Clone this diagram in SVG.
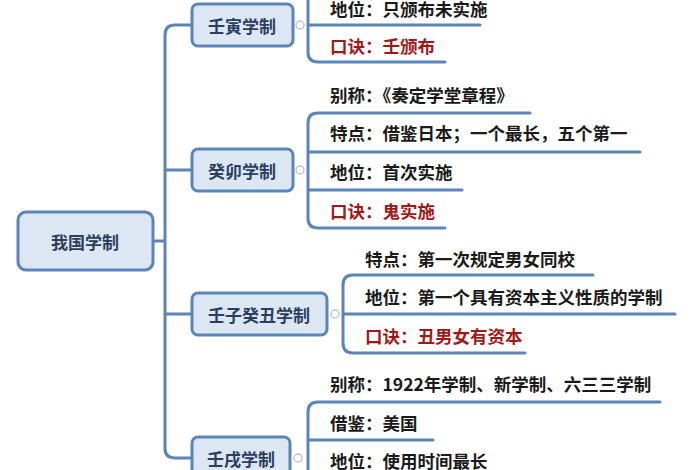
<svg xmlns="http://www.w3.org/2000/svg" width="700" height="470" viewBox="0 0 700 470">
<style>
.ln{fill:none;stroke:#5b84b8;stroke-width:3;stroke-linecap:round;stroke-linejoin:round}
.nd{fill:#dde6f3;stroke:#5b84b8;stroke-width:3}
.t{font-family:"Noto Sans CJK SC",sans-serif;font-size:17.5px;font-weight:bold;fill:#1a1a1a}
.r{fill:#a01818}
.nt{font-family:"Noto Sans CJK SC",sans-serif;font-size:17px;font-weight:bold;fill:#2a3f5f;text-anchor:middle;dominant-baseline:central}
.c{fill:#fff;stroke:#b8c6d8;stroke-width:1.5}
</style>
<g id="connectors">
<path class="ln" d="M153,241 H165 M192,25 H175 Q165,25 165,35 V448 Q165,458 175,458 H192 M165,170 H192 M165,314 H192"/>
<path class="ln" d="M308,0 V52 Q308,62 318,62 H445 M308,25 H480"/>
<path class="ln" d="M530,113 H318 Q308,113 308,123 V218 Q308,228 318,228 H445 M308,152 H640 M308,190 H462"/>
<path class="ln" d="M593,275 H353 Q343,275 343,285 V343 Q343,353 353,353 H525 M343,314 H675"/>
<path class="ln" d="M660,402 H318 Q308,402 308,412 V470 M308,440 H433 M308,478 H490"/>
<circle class="c" cx="300" cy="25" r="4"/>
<circle class="c" cx="300" cy="170" r="4"/>
<circle class="c" cx="335" cy="314" r="4"/>
<circle class="c" cx="298" cy="458" r="4"/>
</g>
<g id="root"><rect class="nd" x="18" y="212" width="135" height="58" rx="8"/><text class="nt" x="85" y="241">我国学制</text></g>
<g id="n1"><rect class="nd" x="192" y="4" width="101" height="42" rx="6"/><text class="nt" x="242" y="25">壬寅学制</text></g>
<g id="n2"><rect class="nd" x="192" y="149" width="101" height="42" rx="6"/><text class="nt" x="242" y="170">癸卯学制</text></g>
<g id="n3"><rect class="nd" x="192" y="293" width="135" height="42" rx="6"/><text class="nt" x="259" y="314">壬子癸丑学制</text></g>
<g id="n4"><rect class="nd" x="192" y="437" width="98" height="42" rx="6"/><text class="nt" x="241" y="458">壬戌学制</text></g>
<g id="leaves">
<text class="t" x="330" y="16">地位：只颁布未实施</text>
<text class="t r" x="330" y="53">口诀：壬颁布</text>
<text class="t" x="330" y="102">别称：《奏定学堂章程》</text>
<text class="t" x="330" y="140">特点：借鉴日本；一个最长，五个第一</text>
<text class="t" x="330" y="179">地位：首次实施</text>
<text class="t r" x="330" y="218">口诀：鬼实施</text>
<text class="t" x="365" y="266">特点：第一次规定男女同校</text>
<text class="t" x="365" y="304">地位：第一个具有资本主义性质的学制</text>
<text class="t r" x="365" y="343">口诀：丑男女有资本</text>
<text class="t" x="330" y="391">别称：1922年学制、新学制、六三三学制</text>
<text class="t" x="330" y="430">借鉴：美国</text>
<text class="t" x="330" y="468">地位：使用时间最长</text>
</g>
</svg>
